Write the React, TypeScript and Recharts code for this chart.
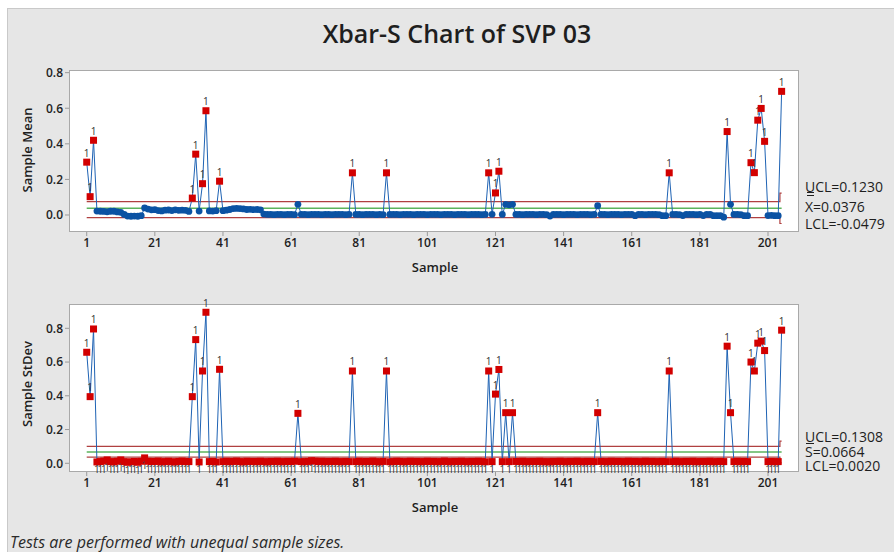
import React from 'react';
import { LineChart, Line, XAxis, YAxis } from 'recharts';

const X_TICKS = [1, 21, 41, 61, 81, 101, 121, 141, 161, 181, 201];
const MEAN_TICKS = [0, 0.2, 0.4, 0.6, 0.8];
const SD_TICKS = [0, 0.2, 0.4, 0.6, 0.8];

const sampleMeans = [
  0.297, 0.103, 0.420, 0.022, 0.021, 0.020, 0.018, 0.021, 0.021, 0.017,
  0.015, 0.003, -0.006, -0.007, -0.006, -0.007, -0.004, 0.040, 0.033, 0.029,
  0.030, 0.025, 0.023, 0.027, 0.028, 0.025, 0.029, 0.026, 0.027, 0.026,
  0.020, 0.095, 0.342, 0.022, 0.176, 0.586, 0.023, 0.022, 0.024, 0.190,
  0.024, 0.027, 0.031, 0.036, 0.037, 0.036, 0.034, 0.031, 0.032, 0.030,
  0.031, 0.029, 0.005, 0.003, 0.003, 0.002, 0.003, 0.003, 0.002, 0.003,
  0.003, 0.002, 0.060, 0.003, 0.003, 0.002, 0.003, 0.003, 0.003, 0.002,
  0.003, 0.003, 0.002, 0.003, 0.003, 0.003, 0.002, 0.003, 0.237, 0.003,
  0.003, 0.002, 0.003, 0.003, 0.003, 0.002, 0.003, 0.002, 0.237, 0.003,
  0.003, 0.003, 0.002, 0.003, 0.003, 0.003, 0.002, 0.003, 0.003, 0.003,
  0.002, 0.003, 0.003, 0.003, 0.002, 0.003, 0.003, 0.003, 0.002, 0.003,
  0.003, 0.003, 0.002, 0.003, 0.003, 0.003, 0.002, 0.003, 0.237, 0.004,
  0.124, 0.246, 0.003, 0.060, 0.057, 0.060, 0.003, 0.003, 0.002, 0.003,
  0.003, 0.003, 0.002, 0.003, 0.003, 0.002, -0.006, 0.003, 0.003, 0.003,
  0.002, 0.003, 0.003, 0.003, 0.002, 0.003, 0.003, 0.003, 0.002, 0.003,
  0.052, 0.003, 0.003, 0.002, 0.003, 0.003, 0.003, 0.002, 0.003, 0.003,
  0.003, -0.004, 0.003, 0.003, 0.002, 0.003, 0.003, 0.003, 0.002, -0.004,
  -0.004, 0.237, 0.003, 0.003, 0.002, -0.003, 0.003, 0.003, 0.003, 0.002,
  0.003, -0.003, 0.003, 0.003, -0.004, -0.004, -0.004, -0.012, 0.469, 0.060,
  0.003, 0.003, 0.002, -0.004, -0.004, 0.294, 0.238, 0.533, 0.599, 0.414,
  -0.003, -0.002, -0.004, -0.004, 0.695,
];

const sampleStDevs = [
  0.658, 0.395, 0.796, 0.008, 0.010, 0.013, 0.020, 0.010, 0.008, 0.012,
  0.020, 0.010, 0.006, 0.009, 0.011, 0.006, 0.012, 0.032, 0.012, 0.010,
  0.011, 0.013, 0.008, 0.010, 0.012, 0.009, 0.008, 0.011, 0.013, 0.010,
  0.010, 0.395, 0.733, 0.008, 0.547, 0.895, 0.010, 0.011, 0.008, 0.557,
  0.010, 0.012, 0.009, 0.011, 0.013, 0.010, 0.008, 0.012, 0.010, 0.011,
  0.009, 0.012, 0.010, 0.008, 0.011, 0.010, 0.012, 0.009, 0.010, 0.011,
  0.010, 0.012, 0.296, 0.010, 0.009, 0.011, 0.015, 0.013, 0.010, 0.012,
  0.009, 0.011, 0.010, 0.012, 0.010, 0.009, 0.011, 0.010, 0.547, 0.010,
  0.012, 0.009, 0.011, 0.010, 0.013, 0.010, 0.008, 0.011, 0.547, 0.009,
  0.010, 0.012, 0.011, 0.009, 0.010, 0.012, 0.010, 0.011, 0.009, 0.010,
  0.012, 0.010, 0.011, 0.009, 0.010, 0.013, 0.010, 0.009, 0.011, 0.010,
  0.012, 0.010, 0.009, 0.011, 0.010, 0.012, 0.010, 0.009, 0.547, 0.010,
  0.410, 0.556, 0.010, 0.300, 0.010, 0.300, 0.011, 0.010, 0.012, 0.009,
  0.010, 0.011, 0.010, 0.012, 0.009, 0.010, 0.008, 0.011, 0.010, 0.012,
  0.010, 0.009, 0.011, 0.010, 0.012, 0.010, 0.009, 0.011, 0.010, 0.010,
  0.300, 0.011, 0.010, 0.009, 0.012, 0.010, 0.011, 0.010, 0.009, 0.012,
  0.010, 0.011, 0.010, 0.009, 0.012, 0.010, 0.011, 0.010, 0.009, 0.011,
  0.010, 0.547, 0.010, 0.012, 0.009, 0.010, 0.011, 0.010, 0.012, 0.009,
  0.010, 0.011, 0.010, 0.012, 0.009, 0.010, 0.011, 0.010, 0.694, 0.300,
  0.010, 0.012, 0.009, 0.011, 0.010, 0.600, 0.547, 0.712, 0.724, 0.668,
  0.010, 0.011, 0.009, 0.010, 0.789,
];

// control limit segments (limits widen for the last, smaller subgroup)
const meanLimits = [
  { first: 1, last: 204, ucl: 0.075, cl: 0.0376, lcl: -0.015 },
  { first: 205, last: 205, ucl: 0.123, cl: 0.0376, lcl: -0.0479 },
];
const sdLimits = [
  { first: 1, last: 204, ucl: 0.1, cl: 0.0664, lcl: 0.037 },
  { first: 205, last: 205, ucl: 0.1308, cl: 0.0664, lcl: 0.002 },
];

const meanLabels = ['UCL=0.1230', 'X=0.0376', 'LCL=-0.0479'];
const sdLabels = ['UCL=0.1308', 'S=0.0664', 'LCL=0.0020'];

type Lim = { first: number; last: number; ucl: number; cl: number; lcl: number };

const buildRows = (values: number[], limits: Lim[]) =>
  values.map((v, i) => {
    const s = i + 1;
    const seg = limits.find((l) => s >= l.first && s <= l.last) || limits[0];
    return {
      sample: s,
      value: v,
      ucl: seg.ucl,
      cl: seg.cl,
      lcl: seg.lcl,
      out: v > seg.ucl ? 'high' : v < seg.lcl ? 'low' : 'in',
    };
  });

const meanRows = buildRows(sampleMeans, meanLimits);
const sdRows = buildRows(sampleStDevs, sdLimits);

const FONT = "'Open Sans', 'Noto Sans', sans-serif";
const LINE_BLUE = '#1f63b4';
const DOT_BLUE = '#0b52a3';
const RED = '#d20000';
const LIMIT_RED = '#b04040';
const CENTER_GREEN = '#5cb35c';

const renderDot = (props: any) => {
  const { cx, cy, payload, index } = props;
  if (cx == null || cy == null) return <g key={`d${index}`} />;
  if (payload.out === 'in') {
    return <circle key={`d${index}`} cx={cx} cy={cy} r={3.4} fill={DOT_BLUE} />;
  }
  const ty = payload.out === 'high' ? cy - 5.5 : cy + 11.5;
  return (
    <g key={`d${index}`}>
      <rect x={cx - 3.5} y={cy - 3.5} width={7} height={7} fill={RED} />
      <text x={cx} y={ty} textAnchor="middle" fontSize={10} fill="#333" fontFamily={FONT}>
        1
      </text>
    </g>
  );
};

const tickStyle = { fontSize: 12, fontWeight: 600, fill: '#1e1e1e', fontFamily: FONT };

const X_DOMAIN: [number, number] = [-4.2, 210.1];

function ControlChart({
  rows,
  yDomain,
  yTicks,
  marginTop,
}: {
  rows: any[];
  yDomain: [number, number];
  yTicks: number[];
  marginTop: number;
}) {
  return (
    <LineChart
      width={887}
      height={260}
      data={rows}
      margin={{ top: marginTop, right: 95, bottom: 6, left: 22 }}
    >
      <XAxis
        dataKey="sample"
        type="number"
        domain={X_DOMAIN}
        ticks={X_TICKS}
        interval={0}
        axisLine={false}
        tickSize={4}
        tickLine={{ stroke: '#9a9a9a' }}
        tick={tickStyle}
        height={30}
      />
      <YAxis
        type="number"
        domain={yDomain}
        ticks={yTicks}
        interval={0}
        axisLine={false}
        tickSize={4}
        tickLine={{ stroke: '#9a9a9a' }}
        tick={tickStyle}
        tickFormatter={(v: number) => v.toFixed(1)}
        width={40}
      />
      <Line dataKey="ucl" type="step" stroke={LIMIT_RED} strokeWidth={1.2} dot={false} activeDot={false} isAnimationActive={false} />
      <Line dataKey="lcl" type="step" stroke={LIMIT_RED} strokeWidth={1.2} dot={false} activeDot={false} isAnimationActive={false} />
      <Line dataKey="cl" type="linear" stroke={CENTER_GREEN} strokeWidth={1.5} dot={false} activeDot={false} isAnimationActive={false} />
      <Line
        dataKey="value"
        type="linear"
        stroke={LINE_BLUE}
        strokeWidth={1}
        dot={renderDot}
        activeDot={false}
        isAnimationActive={false}
      />
    </LineChart>
  );
}

const abs = (extra: React.CSSProperties): React.CSSProperties => ({
  position: 'absolute',
  fontFamily: FONT,
  color: '#1e1e1e',
  whiteSpace: 'nowrap',
  ...extra,
});

export default function App() {
  return (
    <div
      style={{
        position: 'absolute',
        left: 7,
        top: 8,
        width: 887,
        height: 544,
        background: '#e6e6e6',
        boxShadow: 'inset 1px 1px 0 #c9c9c9',
        overflow: 'hidden',
      }}
    >
      <div style={abs({ left: 450, top: 8, transform: 'translateX(-50%)', fontSize: 25, fontWeight: 600, lineHeight: '34px' })}>
        Xbar-S Chart of SVP 03
      </div>

      {/* plot frames */}
      <div style={{ position: 'absolute', left: 62, top: 62, width: 730, height: 162, background: '#fff', border: '1px solid #a9a9a9', boxSizing: 'border-box' }} />
      <div style={{ position: 'absolute', left: 62, top: 296, width: 730, height: 168, background: '#fff', border: '1px solid #a9a9a9', boxSizing: 'border-box' }} />

      <div style={{ position: 'absolute', left: 0, top: 0 }}>
        <ControlChart rows={meanRows} yDomain={[-0.0956, 0.815]} yTicks={MEAN_TICKS} marginTop={62} />
      </div>
      <div style={{ position: 'absolute', left: 0, top: 240 }}>
        <ControlChart rows={sdRows} yDomain={[-0.0516, 0.944]} yTicks={SD_TICKS} marginTop={56} />
      </div>

      {/* axis titles */}
      <div style={abs({ left: 20, top: 142, transform: 'translate(-50%, -50%) rotate(-90deg)', fontSize: 13, fontWeight: 600, lineHeight: '16px' })}>
        Sample Mean
      </div>
      <div style={abs({ left: 428, top: 259, transform: 'translate(-50%, -50%)', fontSize: 13, fontWeight: 600, lineHeight: '16px' })}>
        Sample
      </div>
      <div style={abs({ left: 20, top: 376, transform: 'translate(-50%, -50%) rotate(-90deg)', fontSize: 13, fontWeight: 600, lineHeight: '16px' })}>
        Sample StDev
      </div>
      <div style={abs({ left: 428, top: 499, transform: 'translate(-50%, -50%)', fontSize: 13, fontWeight: 600, lineHeight: '16px' })}>
        Sample
      </div>

      {/* limit labels, Xbar chart */}
      <div style={abs({ left: 798, top: 170, fontSize: 14, lineHeight: '17px' })}>{meanLabels[0]}</div>
      <div style={{ position: 'absolute', left: 800, top: 184, width: 7, height: 1, background: '#1e1e1e' }} />
      <div style={{ position: 'absolute', left: 800, top: 187, width: 7, height: 1, background: '#1e1e1e' }} />
      <div style={abs({ left: 798, top: 190, fontSize: 14, lineHeight: '17px' })}>{meanLabels[1]}</div>
      <div style={abs({ left: 798, top: 207, fontSize: 14, lineHeight: '17px' })}>{meanLabels[2]}</div>

      {/* limit labels, S chart */}
      <div style={abs({ left: 798, top: 420, fontSize: 14, lineHeight: '17px' })}>{sdLabels[0]}</div>
      <div style={{ position: 'absolute', left: 799, top: 435, width: 8, height: 1, background: '#1e1e1e' }} />
      <div style={abs({ left: 798, top: 435, fontSize: 14, lineHeight: '17px' })}>{sdLabels[1]}</div>
      <div style={abs({ left: 798, top: 449, fontSize: 14, lineHeight: '17px' })}>{sdLabels[2]}</div>

      <div style={abs({ left: 3, top: 526, fontSize: 16, fontStyle: 'italic', lineHeight: '17px', color: '#2a2a2a' })}>
        Tests are performed with unequal sample sizes.
      </div>
    </div>
  );
}
